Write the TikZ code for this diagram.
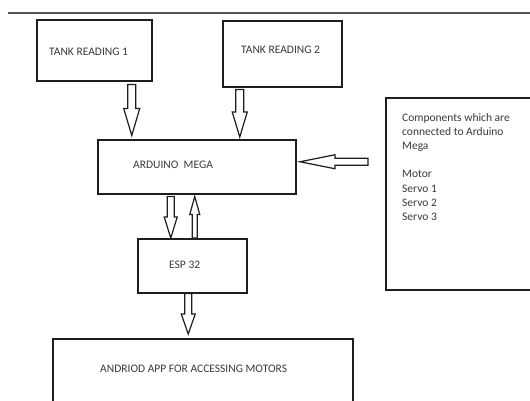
\documentclass[tikz,border=0pt]{standalone}
\usepackage{fontspec}
\setmainfont{Carlito}
\usetikzlibrary{calc}
\definecolor{ink}{HTML}{1E1E1E}
\definecolor{txtc}{HTML}{3A3A3A}
\definecolor{rulec}{HTML}{555555}
\tikzset{
  box/.style={draw=ink, line width=1.5pt, inner sep=0pt, anchor=north west},
  lbl/.style={text=txtc, font=\fontsize{11.5}{14.2}\selectfont, inner sep=0pt, anchor=base west},
  barrow/.style={draw=ink, line width=1.2pt, fill=white, line join=miter},
}
\newcommand{\blockarr}[5]{%
  \coordinate (ba-hb) at ($(#2)!#5!(#1)$);
  \draw[barrow] ($(#1)!#3!90:(#2)$) -- ($(ba-hb)!#3!90:(#2)$) -- ($(ba-hb)!#4!90:(#2)$) -- (#2)
    -- ($(ba-hb)!#4!-90:(#2)$) -- ($(ba-hb)!#3!-90:(#2)$) -- ($(#1)!#3!-90:(#2)$) -- cycle;
}
\begin{document}
\begin{tikzpicture}[x=1pt,y=-1pt]
\useasboundingbox[fill=white] (0,0) rectangle (530,400);
% top rule
\coordinate (rl) at (8,13);
\coordinate (rr) at (532,13);
\draw[draw=rulec, line width=1.4pt] (rl) -- (rr);
% boxes
\node[box, minimum width=115pt, minimum height=61pt] (t1) at (36,19) {};
\node[box, minimum width=119pt, minimum height=66pt] (t2) at (222,20) {};
\node[box, minimum width=198pt, minimum height=54pt] (ard) at (97,139) {};
\node[box, minimum width=109pt, minimum height=54pt] (esp) at (137,238) {};
\node[box, minimum width=300pt, minimum height=64pt] (app) at (52,338) {};
\node[box, minimum width=160pt, minimum height=192pt] (comp) at (385,97) {};
% labels
\node[lbl] (t1t) at ($(t1.north west)+(13,36.4)$) {TANK READING 1};
\node[lbl] (t2t) at ($(t2.north west)+(19,33.7)$) {TANK READING 2};
\node[lbl] (ardt) at ($(ard.north west)+(36,29.7)$) {ARDUINO~~MEGA};
\node[lbl] (espt) at ($(esp.north west)+(32,30.7)$) {ESP 32};
\node[lbl] (appt) at ($(app.north west)+(48,34.7)$) {ANDRIOD APP FOR ACCESSING MOTORS};
\node[lbl] (compt) at ($(comp.north west)+(17,24)$) {\parbox[t]{120pt}{\raggedright
  Components which are\\connected to Arduino\\Mega\\[14.2pt]Motor\\Servo 1\\Servo 2\\Servo 3}};
% block arrows
\coordinate (a1s) at ($(t1.south)+(37.5,3)$);
\coordinate (a1e) at ($(a1s |- ard.north)+(0,-3.5)$);
\blockarr{a1s}{a1e}{4pt}{8pt}{27pt}
\coordinate (a2s) at ($(t2.south)+(-42.5,2)$);
\coordinate (a2e) at ($(a2s |- ard.north)+(0,-2)$);
\blockarr{a2s}{a2e}{4pt}{7.5pt}{25pt}
\coordinate (a3e) at ($(ard.east)+(3.5,-5)$);
\coordinate (a3s) at ($(a3e -| comp.west)+(-17,0)$);
\blockarr{a3s}{a3e}{3.5pt}{7pt}{35pt}
\coordinate (a4s) at ($(ard.south)+(-26,2)$);
\coordinate (a4e) at (a4s |- esp.north);
\blockarr{a4s}{a4e}{3.5pt}{6.5pt}{21pt}
\coordinate (a5s) at ($(esp.north)+(2.5,0)$);
\coordinate (a5e) at ($(a5s |- ard.south)+(0,2)$);
\blockarr{a5s}{a5e}{2.5pt}{5pt}{18pt}
\coordinate (a6s) at ($(esp.south)+(-4,0)$);
\coordinate (a6e) at ($(a6s |- app.north)+(0,-4)$);
\blockarr{a6s}{a6e}{3.5pt}{7pt}{20pt}
\end{tikzpicture}
\end{document}
